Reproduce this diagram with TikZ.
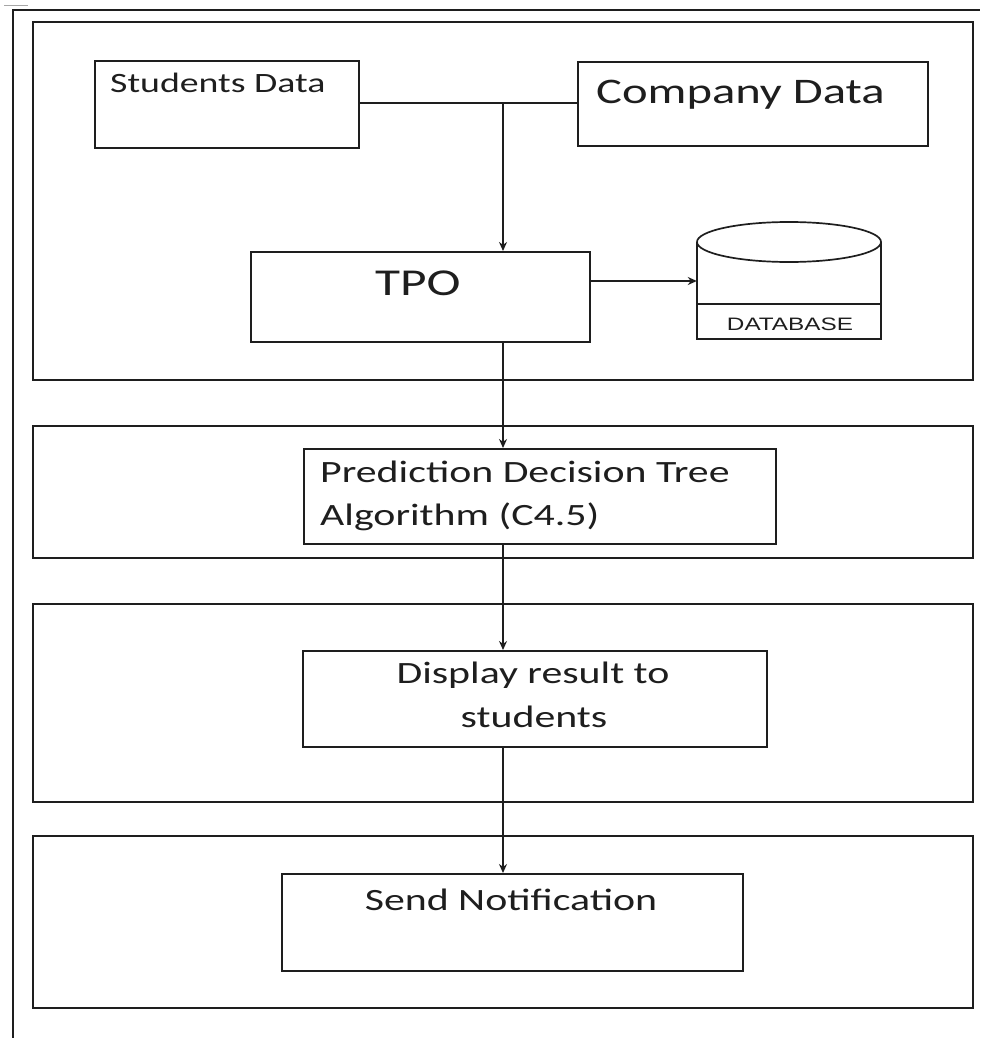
\documentclass[tikz,border=0pt]{standalone}
\usepackage{fontspec}
\setmainfont{Carlito}[FakeStretch=1.35]
\newfontfamily\dbfont{Liberation Sans}[FakeStretch=1.35]
\usetikzlibrary{arrows.meta}
\definecolor{ink}{HTML}{1E1E1E}
\tikzset{
  box/.style={draw=ink, line width=2pt, rectangle, inner sep=0pt},
  ghost/.style={rectangle, inner sep=0pt},
  panel/.style={draw=ink, line width=2pt},
  conn/.style={draw=ink, line width=1.5pt},
  arr/.style={conn, -{Stealth[length=9pt,width=8pt]}},
  lbl/.style={text=ink, inner sep=0pt},
}
\begin{document}
\begin{tikzpicture}[x=1pt,y=-1pt]
\useasboundingbox (0,0) rectangle (980,1038);
% outer frame
\draw[panel] (13,1038) -- (13,10) -- (980,10);
\draw[gray!70, line width=1pt] (4,6) -- (28,6);
% panels
\draw[panel] (33,22) rectangle (973,380);
\draw[panel] (33,426) rectangle (973,558);
\draw[panel] (33,604) rectangle (973,802);
\draw[panel] (33,836) rectangle (973,1008);

% boxes
\node[box, minimum width=264pt, minimum height=87pt] (sd) at (227,104.5) {};
\node[box, minimum width=350pt, minimum height=84pt] (cd) at (753,104) {};
\node[box, minimum width=339pt, minimum height=90pt] (tpo) at (420.5,297) {};
\node[box, minimum width=472pt, minimum height=95pt] (pred) at (540,496.5) {};
\node[box, minimum width=464pt, minimum height=96pt] (disp) at (535,699) {};
\node[box, minimum width=461pt, minimum height=97pt] (send) at (512.5,922.5) {};

% database cylinder
\node[ghost, minimum width=184pt, minimum height=118pt] (db) at (789,281) {};
\draw[panel, line width=1.7pt] (697,242) -- (697,339) -- (881,339) -- (881,242);
\draw[panel, line width=1.7pt] (789,242) ellipse [x radius=92, y radius=20];
\draw[panel, line width=1.7pt] (697,304) -- (881,304);
\node[lbl, anchor=base, font=\dbfont\fontsize{18}{18}\selectfont] (dbt) at (790,330) {DATABASE};

% labels
\node[lbl, anchor=base west, font=\fontsize{28}{28}\selectfont] (sdt) at (110,93) {Students Data};
\node[lbl, anchor=base west, font=\fontsize{36}{36}\selectfont] (cdt) at (596,103) {Company Data};
\node[lbl, anchor=base west, font=\fontsize{38}{38}\selectfont] (tpot) at (375,295) {TPO};
\node[lbl, anchor=base west, font=\fontsize{31}{31}\selectfont] (pred1) at (320,482) {Prediction Decision Tree};
\node[lbl, anchor=base west, font=\fontsize{31}{31}\selectfont] (pred2) at (320,525) {Algorithm (C4.5)};
\node[lbl, anchor=base, font=\fontsize{31}{31}\selectfont] (disp1) at (533,683) {Display result to};
\node[lbl, anchor=base, font=\fontsize{31}{31}\selectfont] (disp2) at (534,727) {students};
\node[lbl, anchor=base, font=\fontsize{31}{31}\selectfont] (sendt) at (511,910) {Send Notification};

% connectors
\coordinate (j) at (503,103);
\draw[conn] (sd.east |- j) -- (cd.west |- j);
\draw[arr] (j) -- (tpo.north -| j);
\draw[arr] (tpo.east |- db.west) -- (db.west);
\draw[arr] (tpo.south -| j) -- (pred.north -| j);
\draw[arr] (pred.south -| j) -- (disp.north -| j);
\draw[arr] (disp.south -| j) -- (send.north -| j);
\end{tikzpicture}
\end{document}
